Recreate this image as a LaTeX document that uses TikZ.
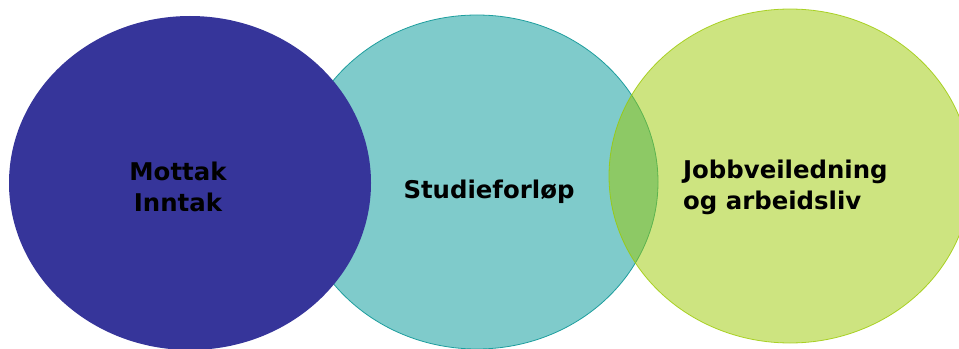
\documentclass[tikz,border=0pt]{standalone}
\usepackage{fontspec}
\setsansfont{DejaVu Sans}
\usepackage{xcolor}
\usetikzlibrary{shapes.geometric, positioning}
\definecolor{mottakblue}{HTML}{36359A}
\definecolor{studieteal}{HTML}{7FCBCB}
\definecolor{studieedge}{HTML}{1E9E9E}
\definecolor{jobbgreen}{HTML}{9BC901}

\begin{document}
\begin{tikzpicture}[x=0.75pt, y=-0.75pt,
  blob/.style={ellipse, minimum width=271.5pt, minimum height=250.5pt, inner sep=0pt},
  blobtext/.style={font=\sffamily\bfseries\fontsize{18.3}{23}\selectfont, text=black}]
\useasboundingbox (0,0) rectangle (959,349);

% the three circles
\node (studie) [blob, draw=studieedge, fill=studieteal, line width=0.6pt] at (477,182) {};
\node (mottak) [blob, fill=mottakblue] at (190,183) {};
\node (jobb) [blob, draw=jobbgreen, fill=jobbgreen, fill opacity=0.5, draw opacity=0.8, line width=0.6pt] at (790,176) {};

% labels
\node (mottaktxt) [blobtext, align=center] at ([xshift=-9pt, yshift=-3pt]mottak.center) {Mottak\\Inntak};
\node (studietxt) [blobtext] at ([xshift=9pt, yshift=-7.5pt]studie.center) {Studieforløp};
\node (jobbtxt) [blobtext, align=left] at ([xshift=-3.5pt, yshift=-8.5pt]jobb.center) {Jobbveiledning\\og arbeidsliv};
\end{tikzpicture}
\end{document}
